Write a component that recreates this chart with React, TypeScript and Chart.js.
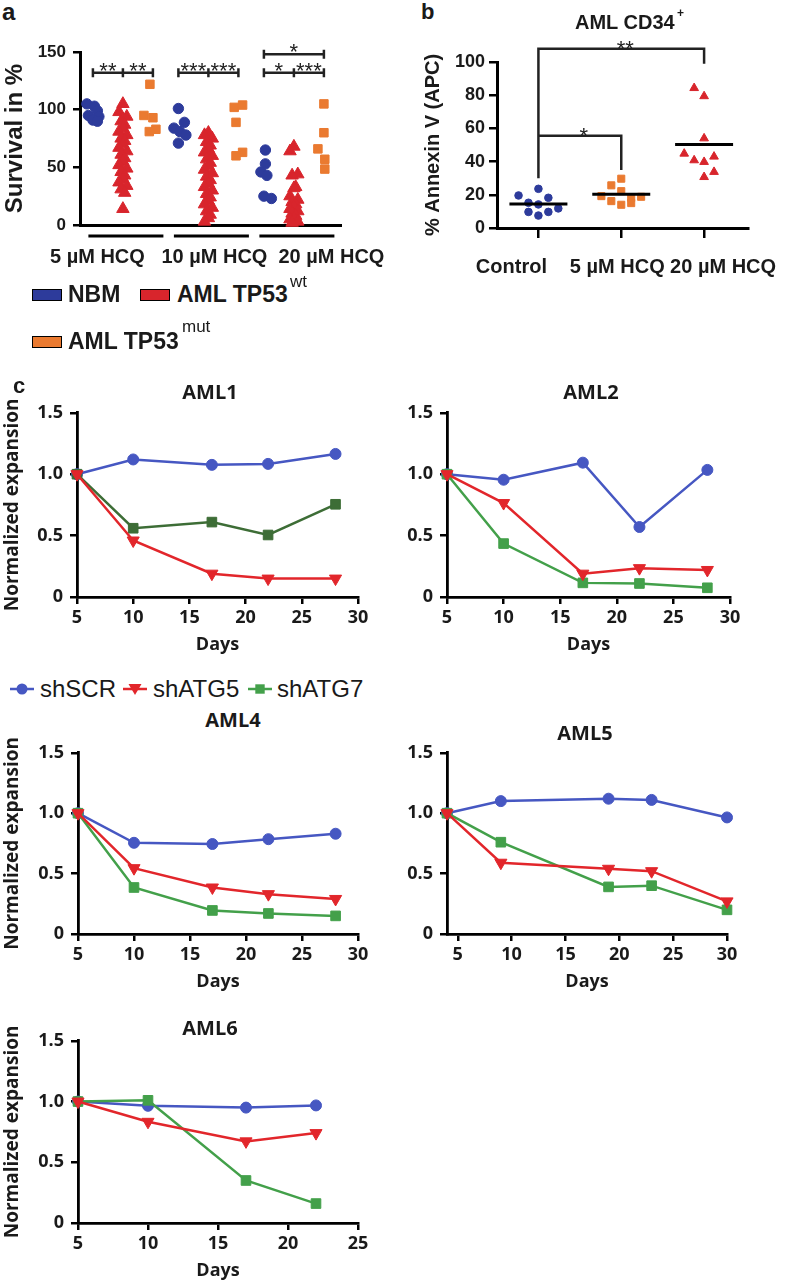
import React, { useEffect, useRef } from 'react';
import { Chart, registerables } from 'chart.js';

Chart.register(...registerables);

// ================= Panel a : survival after HCQ =================
const hcqGroups = ['5 µM HCQ', '10 µM HCQ', '20 µM HCQ'];
const nbm5 = [105, 103, 99, 95, 94, 91, 90];
const nbm10 = [101, 89, 84, 81, 78, 71];
const nbm20 = [65, 53, 46, 43, 25, 23];
const wt5 = [105, 98, 94, 90, 87, 84, 81, 78, 75, 73, 70, 67, 64, 61, 58, 55, 52, 49, 46, 43, 40, 37, 34, 31, 28, 14];
const wt10 = [80, 78, 75, 72, 69, 66, 63, 60, 57, 54, 51, 48, 45, 42, 39, 36, 33, 30, 27, 24, 21, 18, 15, 12, 9, 6, 3];
const wt20 = [68, 64, 44, 43, 33, 32, 25, 22, 20, 18, 16, 14, 12, 10, 8, 6, 5, 3, 2];
const mut5 = [122, 95, 93, 83, 81];
const mut10 = [104, 102, 89, 63, 60];
const mut20 = [105, 80, 66, 57, 48.5];
// horizontal scatter offsets inside a column
const nbm5Jitter = [-0.2, 0.05, 0.15, -0.15, 0.2, 0, 0.15];
const nbm10Jitter = [0, 0.2, -0.15, 0.05, 0.25, 0];
const nbm20Jitter = [0.05, 0.05, -0.1, 0.1, 0, 0.25];
const wtJitter = [0, -0.13, 0.13, -0.06, 0.06];
const mut5Jitter = [-0.1, -0.3, 0, 0.1, -0.12];
const mut10Jitter = [0.14, -0.14, -0.08, 0.14, -0.08];
const mut20Jitter = [0, 0, -0.2, 0.03, 0.03];
const sigA = [
  { group: 0, slots: [0, 1, 2], y: 132, labels: ['**', '**'] },
  { group: 1, slots: [0, 1, 2], y: 132, labels: ['***', '***'] },
  { group: 2, slots: [0, 1, 2], y: 132, labels: ['*', '***'] },
  { group: 2, slots: [0, 2], y: 148, labels: ['*'] },
];

// ================= Panel b : Annexin V =================
const annexinGroups = ['Control', '5 µM HCQ', '20 µM HCQ'];
const annexinControl = [19.6, 23.6, 18.2, 15.2, 14.2, 11.8, 9.7, 9.7, 7.5];
const annexinHcq5 = [29.7, 25.7, 22.2, 19.2, 18.2, 18.8, 16.2, 15, 14];
const annexinHcq20 = [84.3, 79.4, 54, 44.8, 40.8, 39.8, 43, 33.8, 30.7];
const annexinMeans = [14.5, 20.4, 50.3];
const controlJitter = [-2, 0, 1, -1, 0, 2, -1, 1, 0];
const hcq5Jitter = [0, -1, 0, -2, 1, 2, -1, 1, 0];
const hcq20Jitter = [-1, 0, 0, -2, -1, 0, 1, 1, 0];
const sigB = [
  { from: 1, to: 3, y: 108, leftEnd: 30, rightEnd: 99, label: '**' },
  { from: 1, to: 2, y: 55.5, leftEnd: 55.5, rightEnd: 35, label: '*' },
];

// ================= Panel c : normalized expansion =================
const days1 = [5, 10, 17, 22, 28];
const aml1SCR = [1.0, 1.12, 1.076, 1.084, 1.165];
const aml1ATG5 = [1.0, 0.46, 0.19, 0.15, 0.15];
const aml1ATG7 = [1.0, 0.56, 0.61, 0.505, 0.755];

const days2 = [5, 10, 17, 22, 28];
const aml2SCR = [1.0, 0.955, 1.094, 0.57, 1.035];
const aml2ATG5 = [1.0, 0.765, 0.19, 0.235, 0.22];
const aml2ATG7 = [1.0, 0.435, 0.115, 0.11, 0.075];

const days4 = [5, 10, 17, 22, 28];
const aml4SCR = [1.0, 0.755, 0.745, 0.785, 0.83];
const aml4ATG5 = [1.0, 0.545, 0.385, 0.33, 0.29];
const aml4ATG7 = [1.0, 0.385, 0.195, 0.17, 0.15];

const days5 = [4, 9, 19, 23, 30];
const aml5SCR = [1.0, 1.1, 1.12, 1.11, 0.965];
const aml5ATG5 = [1.0, 0.59, 0.54, 0.52, 0.27];
const aml5ATG7 = [1.0, 0.76, 0.39, 0.4, 0.2];

const days6 = [5, 10, 17, 22];
const aml6SCR = [1.0, 0.965, 0.95, 0.968];
const aml6ATG5 = [1.0, 0.833, 0.672, 0.74];
const aml6ATG7 = [1.0, 1.01, 0.35, 0.16];

const xTicks30 = [5, 10, 15, 20, 25, 30];
const xTicks25 = [5, 10, 15, 20, 25];

// ================= styles =================
const A_FONT = '"Liberation Sans", Arial, Helvetica, sans-serif';
const C_FONT = '"Open Sans", "Noto Sans", sans-serif';
const TEXT = '#1a1a1a';
const AXIS = '#000';
const NBM_BLUE = '#2d3b9b';
const WT_RED = '#d8252c';
const MUT_ORANGE = '#ea7a30';
const SCR_BLUE = '#4657c2';
const ATG5_RED = '#e2262b';
const ATG7_GREEN = '#43a04a';
const ATG7_DARK = '#3d6d36';

const GROUP_GAP = 2.85;
const JIT_B = 0.12;

type Rect = { x: number; y: number; w: number; h: number };
type Area = { l: number; t: number; r: number; b: number };

function padFor(rect: Rect, area: Area, yW: number, xH: number) {
  return {
    left: area.l - rect.x - yW,
    top: area.t - rect.y,
    right: rect.x + rect.w - area.r,
    bottom: rect.y + rect.h - area.b - xH,
  };
}

function tickGrid(len: number) {
  return { display: true, drawOnChartArea: false, drawTicks: true, tickLength: len, color: AXIS, lineWidth: 2.5 };
}

// ---------- panel a config ----------
const A_RECT: Rect = { x: 0, y: 30, w: 390, h: 245 };
const A_AREA: Area = { l: 80, t: 52, r: 341, b: 225 };

function columnPoints(values: number[], jitter: number[], group: number, slot: number) {
  return values.map((v, i) => ({ x: group * GROUP_GAP + slot + jitter[i % jitter.length], y: v }));
}

function panelAConfig() {
  const yW = 80, xH = 0;
  const extras = {
    id: 'panelAExtras',
    afterDraw(chart: any) {
      const { ctx, chartArea, scales } = chart;
      const x = scales.x, y = scales.y;
      ctx.save();
      ctx.strokeStyle = AXIS;
      ctx.fillStyle = TEXT;
      ctx.lineWidth = 3;
      hcqGroups.forEach((label, g) => {
        const x0 = x.getPixelForValue(g * GROUP_GAP - 0.15);
        const x1 = x.getPixelForValue(g * GROUP_GAP + 2.35);
        const yy = chartArea.bottom + 11;
        ctx.beginPath();
        ctx.moveTo(x0, yy);
        ctx.lineTo(x1, yy);
        ctx.stroke();
        ctx.font = `bold 20px ${A_FONT}`;
        ctx.textAlign = 'center';
        ctx.textBaseline = 'middle';
        ctx.fillText(label, x.getPixelForValue(g * GROUP_GAP + 0.15 + g * 1.05), chartArea.bottom + 32);
      });
      ctx.strokeStyle = '#222';
      ctx.fillStyle = '#222';
      ctx.lineWidth = 2.5;
      sigA.forEach((b) => {
        const xs = b.slots.map((s) => x.getPixelForValue(b.group * GROUP_GAP + s));
        const yy = y.getPixelForValue(b.y);
        ctx.beginPath();
        ctx.moveTo(xs[0], yy);
        ctx.lineTo(xs[xs.length - 1], yy);
        xs.forEach((px) => {
          ctx.moveTo(px, yy - 4.5);
          ctx.lineTo(px, yy + 4.5);
        });
        ctx.stroke();
        ctx.font = `22px ${A_FONT}`;
        ctx.textAlign = 'center';
        ctx.textBaseline = 'alphabetic';
        b.labels.forEach((t, i) => {
          const cx = (xs[i] + xs[i + 1]) / 2;
          ctx.fillText(t, cx, yy - 7.5 + 0.57 * 22);
        });
      });
      ctx.restore();
    },
  };
  const nbmPts = [
    ...columnPoints(nbm5, nbm5Jitter, 0, 0),
    ...columnPoints(nbm10, nbm10Jitter, 1, 0),
    ...columnPoints(nbm20, nbm20Jitter, 2, 0),
  ];
  const wtPts = [
    ...columnPoints(wt5, wtJitter, 0, 1),
    ...columnPoints(wt10, wtJitter, 1, 1),
    ...columnPoints(wt20, wtJitter, 2, 1),
  ];
  const mutPts = [
    ...columnPoints(mut5, mut5Jitter, 0, 2),
    ...columnPoints(mut10, mut10Jitter, 1, 2),
    ...columnPoints(mut20, mut20Jitter, 2, 2),
  ];
  return {
    type: 'scatter',
    data: {
      datasets: [
        { label: 'NBM', data: nbmPts, pointStyle: 'circle', pointRadius: 5.2, backgroundColor: NBM_BLUE, borderColor: NBM_BLUE, borderWidth: 1, clip: false },
        { label: 'AML TP53 wt', data: wtPts, pointStyle: 'triangle', pointRadius: 7.2, backgroundColor: WT_RED, borderColor: WT_RED, borderWidth: 1, clip: false },
        { label: 'AML TP53 mut', data: mutPts, pointStyle: 'rect', pointRadius: 6, backgroundColor: MUT_ORANGE, borderColor: MUT_ORANGE, borderWidth: 1, clip: false },
      ],
    },
    options: {
      animation: false,
      responsive: false,
      events: [],
      layout: { padding: padFor(A_RECT, A_AREA, yW, xH) },
      plugins: { legend: { display: false }, tooltip: { enabled: false }, title: { display: false } },
      scales: {
        x: {
          type: 'linear',
          min: -0.43,
          max: 8.27,
          ticks: { display: false },
          grid: { display: false },
          border: { display: true, color: AXIS, width: 3 },
          afterFit: (s: any) => { s.height = xH; },
        },
        y: {
          min: 0,
          max: 150,
          ticks: { stepSize: 50, color: TEXT, padding: 7, font: { family: A_FONT, size: 17, weight: 'bold' } },
          grid: tickGrid(7),
          border: { display: true, color: AXIS, width: 3 },
          title: { display: true, text: 'Survival in %', color: TEXT, font: { family: A_FONT, size: 24, weight: 'bold' }, padding: { top: 1, bottom: 0 } },
          afterFit: (s: any) => { s.width = yW; },
        },
      },
    },
    plugins: [extras],
  };
}

// ---------- panel b config ----------
const B_RECT: Rect = { x: 395, y: 30, w: 395, h: 260 };
const B_AREA: Area = { l: 497, t: 62, r: 748, b: 228 };
const B_LABEL_SHIFT = [-27, -4, 19];

function panelBConfig() {
  const yW = 76, xH = 50;
  const extras = {
    id: 'panelBExtras',
    afterDraw(chart: any) {
      const { ctx, chartArea, scales } = chart;
      const x = scales.x, y = scales.y;
      ctx.save();
      ctx.fillStyle = TEXT;
      ctx.font = `bold 20px ${A_FONT}`;
      ctx.textAlign = 'center';
      ctx.textBaseline = 'middle';
      annexinGroups.forEach((t, i) => {
        ctx.fillText(t, x.getPixelForValue(i + 1) + B_LABEL_SHIFT[i], chartArea.bottom + 39);
      });
      ctx.strokeStyle = '#222';
      ctx.fillStyle = '#222';
      ctx.lineWidth = 2.5;
      sigB.forEach((b) => {
        const x0 = x.getPixelForValue(b.from);
        const x1 = x.getPixelForValue(b.to);
        const yy = y.getPixelForValue(b.y);
        ctx.beginPath();
        ctx.moveTo(x0, y.getPixelForValue(b.leftEnd));
        ctx.lineTo(x0, yy);
        ctx.lineTo(x1, yy);
        ctx.lineTo(x1, y.getPixelForValue(b.rightEnd));
        ctx.stroke();
        ctx.font = `22px ${A_FONT}`;
        ctx.textAlign = 'center';
        ctx.textBaseline = 'alphabetic';
        ctx.fillText(b.label, (x0 + x1) / 2 + 4, yy - 5.5 + 0.57 * 22);
      });
      ctx.restore();
    },
  };
  const pts = (vals: number[], jit: number[], pos: number) => vals.map((v, i) => ({ x: pos + jit[i] * JIT_B, y: v }));
  const meanSets = annexinMeans.map((m, i) => ({
    label: 'mean ' + annexinGroups[i],
    data: [{ x: i + 1 - 0.35, y: m }, { x: i + 1 + 0.35, y: m }],
    showLine: true,
    borderColor: '#000',
    borderWidth: 3,
    pointRadius: 0,
    clip: false,
  }));
  return {
    type: 'scatter',
    data: {
      datasets: [
        ...meanSets,
        { label: annexinGroups[0], data: pts(annexinControl, controlJitter, 1), pointStyle: 'circle', pointRadius: 3.8, backgroundColor: NBM_BLUE, borderColor: NBM_BLUE, borderWidth: 1, clip: false },
        { label: annexinGroups[1], data: pts(annexinHcq5, hcq5Jitter, 2), pointStyle: 'rect', pointRadius: 5, backgroundColor: MUT_ORANGE, borderColor: MUT_ORANGE, borderWidth: 1, clip: false },
        { label: annexinGroups[2], data: pts(annexinHcq20, hcq20Jitter, 3), pointStyle: 'triangle', pointRadius: 5, backgroundColor: WT_RED, borderColor: WT_RED, borderWidth: 1, clip: false },
      ],
    },
    options: {
      animation: false,
      responsive: false,
      events: [],
      layout: { padding: padFor(B_RECT, B_AREA, yW, xH) },
      plugins: { legend: { display: false }, tooltip: { enabled: false }, title: { display: false } },
      scales: {
        x: {
          type: 'linear',
          min: 0.5,
          max: 3.53,
          afterBuildTicks: (s: any) => { s.ticks = annexinGroups.map((_, i) => ({ value: i + 1 })); },
          ticks: { display: false },
          grid: tickGrid(10),
          border: { display: true, color: AXIS, width: 3 },
          afterFit: (s: any) => { s.height = xH; },
        },
        y: {
          min: 0,
          max: 100,
          ticks: { stepSize: 20, color: TEXT, padding: 4, font: { family: A_FONT, size: 18, weight: 'bold' } },
          grid: tickGrid(8),
          border: { display: true, color: AXIS, width: 3 },
          title: { display: true, text: '% Annexin V (APC)', color: TEXT, font: { family: A_FONT, size: 20, weight: 'bold' }, padding: { top: 0, bottom: 0 } },
          afterFit: (s: any) => { s.width = yW; },
        },
      },
    },
    plugins: [extras],
  };
}

// ---------- panel c config ----------
type ExpOpts = {
  rect: Rect;
  area: Area;
  yW: number;
  yTitle: boolean;
  xMin: number;
  xMax: number;
  ticks: number[];
  green: string;
};

function expansionConfig(days: number[], scr: number[], atg5: number[], atg7: number[], o: ExpOpts) {
  const xH = 60;
  const series = (vals: number[]) => vals.map((v, i) => ({ x: days[i], y: v }));
  const base = { tension: 0, borderWidth: 2.5, pointBorderWidth: 1, clip: false };
  return {
    type: 'line',
    data: {
      datasets: [
        { ...base, label: 'shATG5', data: series(atg5), borderColor: ATG5_RED, backgroundColor: ATG5_RED, pointStyle: 'triangle', rotation: 180, pointRadius: 7 },
        { ...base, label: 'shATG7', data: series(atg7), borderColor: o.green, backgroundColor: o.green, pointStyle: 'rect', pointRadius: 6.8 },
        { ...base, label: 'shSCR', data: series(scr), borderColor: SCR_BLUE, backgroundColor: SCR_BLUE, pointStyle: 'circle', pointRadius: 5.5 },
      ],
    },
    options: {
      animation: false,
      responsive: false,
      events: [],
      layout: { padding: padFor(o.rect, o.area, o.yW, xH) },
      plugins: { legend: { display: false }, tooltip: { enabled: false }, title: { display: false } },
      scales: {
        x: {
          type: 'linear',
          min: o.xMin,
          max: o.xMax,
          afterBuildTicks: (s: any) => { s.ticks = o.ticks.map((v) => ({ value: v })); },
          ticks: { color: TEXT, padding: 3, autoSkip: false, maxRotation: 0, font: { family: C_FONT, size: 18, weight: 'bold' } },
          grid: tickGrid(7),
          border: { display: true, color: AXIS, width: 2.8 },
          title: { display: true, text: 'Days', color: TEXT, font: { family: C_FONT, size: 18, weight: 'bold' }, padding: { top: 0, bottom: 1.2 } },
          afterFit: (s: any) => { s.height = xH; },
        },
        y: {
          min: 0,
          max: 1.5,
          ticks: {
            stepSize: 0.5,
            color: TEXT,
            padding: 7,
            font: { family: C_FONT, size: 18, weight: 'bold' },
            callback: (v: any) => (Number(v) === 0 ? '0' : Number(v).toFixed(1)),
          },
          grid: tickGrid(7),
          border: { display: true, color: AXIS, width: 2.8 },
          title: { display: o.yTitle, text: 'Normalized expansion', color: TEXT, font: { family: C_FONT, size: 19, weight: 'bold' }, padding: { top: 1, bottom: 0 } },
          afterFit: (s: any) => { s.width = o.yW; },
        },
      },
    },
  };
}

const C1: ExpOpts = { rect: { x: 0, y: 395, w: 395, h: 270 }, area: { l: 77, t: 411, r: 358, b: 597 }, yW: 77, yTitle: true, xMin: 5, xMax: 30, ticks: xTicks30, green: ATG7_DARK };
const C2: ExpOpts = { rect: { x: 400, y: 395, w: 390, h: 270 }, area: { l: 447, t: 411, r: 730, b: 597 }, yW: 47, yTitle: false, xMin: 5, xMax: 30, ticks: xTicks30, green: ATG7_GREEN };
const C4: ExpOpts = { rect: { x: 0, y: 735, w: 395, h: 270 }, area: { l: 78, t: 748, r: 358, b: 934 }, yW: 78, yTitle: true, xMin: 5, xMax: 30, ticks: xTicks30, green: ATG7_GREEN };
const C5: ExpOpts = { rect: { x: 400, y: 735, w: 390, h: 270 }, area: { l: 447, t: 748, r: 727, b: 934 }, yW: 47, yTitle: false, xMin: 4, xMax: 30, ticks: xTicks30, green: ATG7_GREEN };
const C6: ExpOpts = { rect: { x: 0, y: 1023, w: 395, h: 262 }, area: { l: 78, t: 1037, r: 358, b: 1223 }, yW: 78, yTitle: true, xMin: 5, xMax: 25, ticks: xTicks25, green: ATG7_GREEN };

// ================= components =================
function ChartBox({ rect, make }: { rect: Rect; make: () => any }) {
  const ref = useRef<HTMLCanvasElement>(null);
  useEffect(() => {
    const chart = new Chart(ref.current as HTMLCanvasElement, make());
    return () => chart.destroy();
  }, []);
  return (
    <canvas
      ref={ref}
      width={rect.w}
      height={rect.h}
      style={{ position: 'absolute', left: rect.x, top: rect.y, width: rect.w, height: rect.h }}
    />
  );
}

function Txt({ x, y, children, size, bold = true, font = A_FONT, center = false }: any) {
  return (
    <div
      style={{
        position: 'absolute',
        left: x,
        top: y,
        transform: center ? 'translate(-50%, -50%)' : 'translateY(-50%)',
        whiteSpace: 'nowrap',
        lineHeight: 1,
        fontFamily: font,
        fontSize: size,
        fontWeight: bold ? 'bold' : 'normal',
        color: TEXT,
      }}
    >
      {children}
    </div>
  );
}

function Swatch({ x, y, color }: { x: number; y: number; color: string }) {
  return (
    <div
      style={{
        position: 'absolute',
        left: x,
        top: y,
        width: 30,
        height: 12,
        background: color,
        border: '1.5px solid #000',
        boxSizing: 'border-box',
      }}
    />
  );
}

function LegendMarker({ x, y, color, shape }: { x: number; y: number; color: string; shape: string }) {
  return (
    <svg width={24} height={16} style={{ position: 'absolute', left: x, top: y - 8 }}>
      <line x1={0} y1={8} x2={24} y2={8} stroke={color} strokeWidth={2.5} />
      {shape === 'circle' && <circle cx={12} cy={8} r={5.5} fill={color} />}
      {shape === 'tri' && <polygon points="5.5,3 18.5,3 12,14" fill={color} />}
      {shape === 'rect' && <rect x={7.3} y={3.3} width={9.4} height={9.4} fill={color} />}
    </svg>
  );
}

export default function App() {
  return (
    <div style={{ position: 'absolute', left: 0, top: 0, width: 790, height: 1285, background: '#fff', overflow: 'hidden' }}>
      <ChartBox rect={A_RECT} make={panelAConfig} />
      <ChartBox rect={B_RECT} make={panelBConfig} />
      <ChartBox rect={C1.rect} make={() => expansionConfig(days1, aml1SCR, aml1ATG5, aml1ATG7, C1)} />
      <ChartBox rect={C2.rect} make={() => expansionConfig(days2, aml2SCR, aml2ATG5, aml2ATG7, C2)} />
      <ChartBox rect={C4.rect} make={() => expansionConfig(days4, aml4SCR, aml4ATG5, aml4ATG7, C4)} />
      <ChartBox rect={C5.rect} make={() => expansionConfig(days5, aml5SCR, aml5ATG5, aml5ATG7, C5)} />
      <ChartBox rect={C6.rect} make={() => expansionConfig(days6, aml6SCR, aml6ATG5, aml6ATG7, C6)} />

      {/* panel letters */}
      <Txt x={2} y={12} size={24}>a</Txt>
      <Txt x={421} y={12} size={22}>b</Txt>
      <Txt x={13} y={386} size={22}>c</Txt>

      {/* panel a legend */}
      <Swatch x={32} y={289} color={NBM_BLUE} />
      <Txt x={68} y={294} size={23}>NBM</Txt>
      <Swatch x={140} y={289} color={WT_RED} />
      <Txt x={177} y={294} size={23}>AML TP53</Txt>
      <Txt x={290} y={281} size={17} bold={false}>wt</Txt>
      <Swatch x={32} y={336} color={MUT_ORANGE} />
      <Txt x={68} y={341} size={23}>AML TP53</Txt>
      <Txt x={182} y={326} size={17} bold={false}>mut</Txt>

      {/* panel b title */}
      <Txt x={575} y={22} size={20}>AML CD34</Txt>
      <Txt x={677} y={13} size={12}>+</Txt>

      {/* panel c titles */}
      <Txt x={210} y={392} size={20} font={C_FONT} center>AML1</Txt>
      <Txt x={591} y={392} size={20} font={C_FONT} center>AML2</Txt>
      <Txt x={233} y={720} size={20} font={C_FONT} center>AML4</Txt>
      <Txt x={585} y={733} size={20} font={C_FONT} center>AML5</Txt>
      <Txt x={210} y={1028} size={20} font={C_FONT} center>AML6</Txt>

      {/* panel c legend */}
      <LegendMarker x={10} y={689} color={SCR_BLUE} shape="circle" />
      <Txt x={40} y={689} size={24} bold={false}>shSCR</Txt>
      <LegendMarker x={123} y={689} color={ATG5_RED} shape="tri" />
      <Txt x={153} y={689} size={24} bold={false}>shATG5</Txt>
      <LegendMarker x={248} y={689} color={ATG7_GREEN} shape="rect" />
      <Txt x={277} y={689} size={24} bold={false}>shATG7</Txt>
    </div>
  );
}
